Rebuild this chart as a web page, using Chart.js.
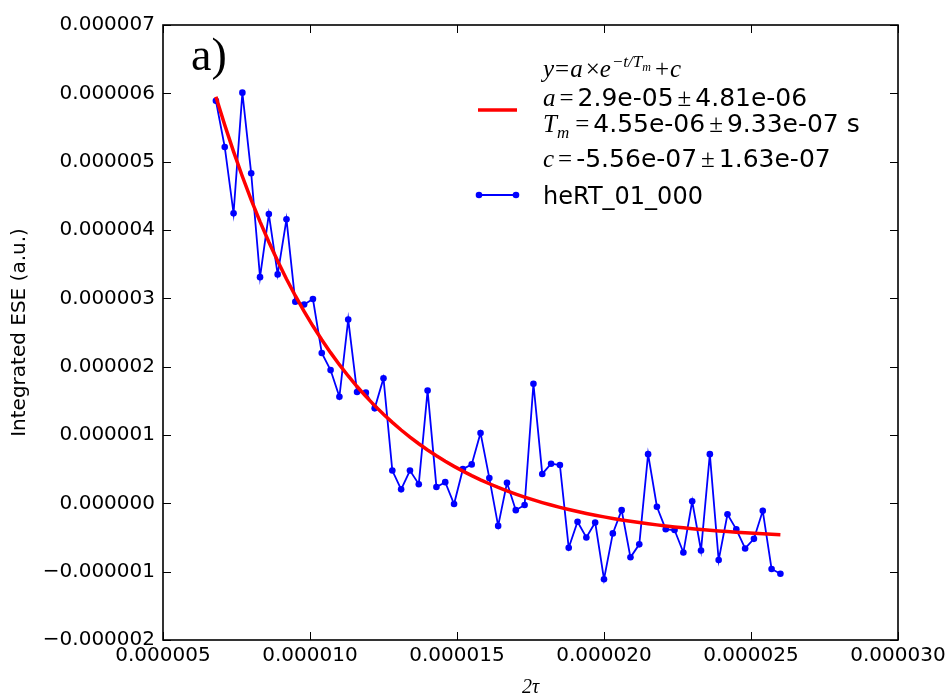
<!DOCTYPE html>
<html>
<head>
<meta charset="utf-8">
<script src="https://cdn.jsdelivr.net/npm/chart.js@4/dist/chart.umd.min.js"></script>
<style>
  html, body { margin: 0; padding: 0; background: #ffffff; }
  #wrap { width: 950px; height: 698px; position: relative; }
</style>
</head>
<body>
<div id="wrap"><canvas id="ese" width="950" height="698"></canvas></div>
<script>
// Echo delay 2τ (s)
const tau2 = [
  6.8e-6, 7.1e-6, 7.4e-6, 7.7e-6, 8.0e-6, 8.3e-6, 8.6e-6, 8.9e-6, 9.2e-6, 9.5e-6,
  9.8e-6, 10.1e-6, 10.4e-6, 10.7e-6, 11.0e-6, 11.3e-6, 11.6e-6, 11.9e-6, 12.2e-6, 12.5e-6,
  12.8e-6, 13.1e-6, 13.4e-6, 13.7e-6, 14.0e-6, 14.3e-6, 14.6e-6, 14.9e-6, 15.2e-6, 15.5e-6,
  15.8e-6, 16.1e-6, 16.4e-6, 16.7e-6, 17.0e-6, 17.3e-6, 17.6e-6, 17.9e-6, 18.2e-6, 18.5e-6,
  18.8e-6, 19.1e-6, 19.4e-6, 19.7e-6, 20.0e-6, 20.3e-6, 20.6e-6, 20.9e-6, 21.2e-6, 21.5e-6,
  21.8e-6, 22.1e-6, 22.4e-6, 22.7e-6, 23.0e-6, 23.3e-6, 23.6e-6, 23.9e-6, 24.2e-6, 24.5e-6,
  24.8e-6, 25.1e-6, 25.4e-6, 25.7e-6, 26.0e-6
];

// Integrated echo intensity, run heRT_01_000 (a.u.)
const eseSignal = [
  5.89e-6, 5.215e-6, 4.244e-6, 6.01e-6, 4.83e-6, 3.31e-6, 4.234e-6, 3.35e-6, 4.156e-6, 2.95e-6,
  2.91e-6, 2.99e-6, 2.20e-6, 1.95e-6, 1.56e-6, 2.69e-6, 1.63e-6, 1.62e-6, 1.39e-6, 1.83e-6,
  0.48e-6, 0.205e-6, 0.48e-6, 0.28e-6, 1.65e-6, 0.24e-6, 0.31e-6, -0.01e-6, 0.50e-6, 0.57e-6,
  1.03e-6, 0.37e-6, -0.33e-6, 0.30e-6, -0.10e-6, -0.025e-6, 1.75e-6, 0.43e-6, 0.58e-6, 0.56e-6,
  -0.65e-6, -0.27e-6, -0.50e-6, -0.28e-6, -1.11e-6, -0.44e-6, -0.10e-6, -0.79e-6, -0.60e-6, 0.72e-6,
  -0.05e-6, -0.38e-6, -0.39e-6, -0.72e-6, 0.03e-6, -0.69e-6, 0.72e-6, -0.83e-6, -0.16e-6, -0.38e-6,
  -0.66e-6, -0.52e-6, -0.11e-6, -0.96e-6, -1.03e-6
];

// Mono-exponential fit y = a·exp(-t/Tm) + c
const fitA = 2.9e-5;
const fitTm = 4.55e-6;
const fitC = -5.56e-7;

// Axis ticks
const xTickValues = [5e-6, 10e-6, 15e-6, 20e-6, 25e-6, 30e-6];
const xTickLabels = ['0.000005', '0.000010', '0.000015', '0.000020', '0.000025', '0.000030'];
const yTickValues = [-2e-6, -1e-6, 0, 1e-6, 2e-6, 3e-6, 4e-6, 5e-6, 6e-6, 7e-6];
const yTickLabels = ['\u22120.000002', '\u22120.000001', '0.000000', '0.000001', '0.000002',
                     '0.000003', '0.000004', '0.000005', '0.000006', '0.000007'];

const measured = tau2.map((t, i) => ({ x: t, y: eseSignal[i] }));
const fitted = tau2.map(t => ({ x: t, y: fitA * Math.exp(-t / fitTm) + fitC }));

const SANS = '"DejaVu Sans", sans-serif';
const SERIF = '"Liberation Serif", "DejaVu Serif", serif';

// Box around the axes and inward tick marks on all four sides
const framePlugin = {
  id: 'frame',
  afterDraw(chart) {
    const { ctx, chartArea: { left, right, top, bottom }, scales: { x, y } } = chart;
    ctx.save();
    ctx.strokeStyle = '#000';
    ctx.lineWidth = 1;
    const seg = (x1, y1, x2, y2) => { ctx.beginPath(); ctx.moveTo(x1, y1); ctx.lineTo(x2, y2); ctx.stroke(); };
    x.ticks.forEach(t => {
      const px = Math.round(x.getPixelForValue(t.value)) + 0.5;
      seg(px, bottom, px, bottom - 8);
      seg(px, top, px, top + 8);
    });
    y.ticks.forEach(t => {
      const py = Math.round(y.getPixelForValue(t.value)) + 0.5;
      seg(left, py, left + 8, py);
      seg(right, py, right - 8, py);
    });
    ctx.lineWidth = 1.6;
    ctx.strokeRect(left, top, right - left, bottom - top);
    ctx.restore();
  }
};

// Panel letter and fit legend with its parameters
const annotationPlugin = {
  id: 'annotations',
  afterDraw(chart) {
    const { ctx } = chart;
    ctx.save();
    ctx.fillStyle = '#000';
    ctx.textBaseline = 'alphabetic';
    ctx.textAlign = 'left';

    ctx.font = '46px ' + SERIF;
    ctx.fillText('a)', 191, 70);

    const MI = 'italic 25px ' + SERIF;
    const MR = '25px ' + SERIF;
    const MIs = 'italic 17px ' + SERIF;
    const MIxs = 'italic 12px ' + SERIF;
    const SN = '25px ' + SANS;

    const runs = (x, y, parts) => {
      parts.forEach(p => {
        x += p.gap || 0;
        ctx.font = p.f;
        ctx.fillText(p.t, x, y + (p.dy || 0));
        x += ctx.measureText(p.t).width;
      });
    };

    const tx = 543;
    runs(tx, 77, [
      { t: 'y', f: MI }, { t: '=', f: MR, gap: 1 }, { t: 'a', f: MI, gap: 1 },
      { t: '\u00d7', f: MR, gap: 3 }, { t: 'e', f: MI },
      { t: '\u2212t/T', f: MIs, dy: -10, gap: 1 }, { t: 'm', f: MIxs, dy: -6 },
      { t: '+', f: MR, gap: 4 }, { t: 'c', f: MI, gap: 1 }
    ]);
    runs(tx, 106, [
      { t: 'a', f: MI }, { t: '=', f: MR, gap: 4 }, { t: '2.9e-05', f: SN, gap: 4 },
      { t: '\u00b1', f: MR, gap: 4 }, { t: '4.81e-06', f: SN, gap: 4 }
    ]);
    runs(tx, 132, [
      { t: 'T', f: MI }, { t: 'm', f: MIs, dy: 6 }, { t: '=', f: MR, gap: 6 },
      { t: '4.55e-06', f: SN, gap: 4 }, { t: '\u00b1', f: MR, gap: 4 },
      { t: '9.33e-07', f: SN, gap: 4 }, { t: ' s', f: SN }
    ]);
    runs(tx, 167, [
      { t: 'c', f: MI }, { t: '=', f: MR, gap: 4 }, { t: '-5.56e-07', f: SN, gap: 4 },
      { t: '\u00b1', f: MR, gap: 4 }, { t: '1.63e-07', f: SN, gap: 4 }
    ]);
    ctx.font = '24px ' + SANS;
    ctx.fillText('heRT_01_000', tx, 204);

    // legend handles
    ctx.strokeStyle = '#ff0000';
    ctx.lineWidth = 3.5;
    ctx.beginPath(); ctx.moveTo(478, 110); ctx.lineTo(517, 110); ctx.stroke();
    ctx.strokeStyle = '#0000ff';
    ctx.fillStyle = '#0000ff';
    ctx.lineWidth = 1.8;
    ctx.beginPath(); ctx.moveTo(479, 195); ctx.lineTo(516, 195); ctx.stroke();
    [479, 516].forEach(px => { ctx.beginPath(); ctx.arc(px, 195, 3.3, 0, Math.PI * 2); ctx.fill(); });
    ctx.restore();
  }
};

new Chart(document.getElementById('ese'), {
  type: 'line',
  data: {
    datasets: [
      {
        label: 'fit',
        data: fitted,
        borderColor: '#ff0000',
        borderWidth: 3.5,
        pointRadius: 0,
        tension: 0,
        fill: false
      },
      {
        label: 'heRT_01_000',
        data: measured,
        borderColor: '#0000ff',
        backgroundColor: '#0000ff',
        borderWidth: 1.8,
        pointRadius: 3.3,
        pointBorderWidth: 0,
        pointBackgroundColor: '#0000ff',
        tension: 0,
        fill: false
      }
    ]
  },
  options: {
    responsive: false,
    animation: false,
    events: [],
    layout: { padding: { top: 25, right: 52, left: 0, bottom: 0 } },
    plugins: { legend: { display: false }, tooltip: { enabled: false } },
    scales: {
      x: {
        type: 'linear',
        min: 5e-6,
        max: 30e-6,
        afterBuildTicks: s => { s.ticks = xTickValues.map(v => ({ value: v })); },
        afterFit: s => { s.height = 58; },
        grid: { display: false, drawTicks: false },
        border: { display: false },
        ticks: {
          autoSkip: false,
          maxRotation: 0,
          padding: 4,
          color: '#000',
          font: { family: SANS, size: 20 },
          callback: (v, i) => xTickLabels[i]
        },
        title: {
          display: true,
          text: '2\u03c4',
          color: '#000',
          font: { family: SERIF, size: 20, style: 'italic', lineHeight: 1 },
          padding: { top: 0, bottom: 0 }
        }
      },
      y: {
        type: 'linear',
        min: -2e-6,
        max: 7e-6,
        afterBuildTicks: s => { s.ticks = yTickValues.map(v => ({ value: v })); },
        afterFit: s => { s.width = 163; },
        grid: { display: false, drawTicks: false },
        border: { display: false },
        ticks: {
          autoSkip: false,
          padding: 8,
          color: '#000',
          font: { family: SANS, size: 20 },
          callback: (v, i) => yTickLabels[i]
        },
        title: {
          display: true,
          text: 'Integrated ESE (a.u.)',
          color: '#000',
          font: { family: SANS, size: 20, lineHeight: 1.2 },
          padding: { top: 8, bottom: 0 }
        }
      }
    }
  },
  plugins: [framePlugin, annotationPlugin]
});
</script>
</body>
</html>
